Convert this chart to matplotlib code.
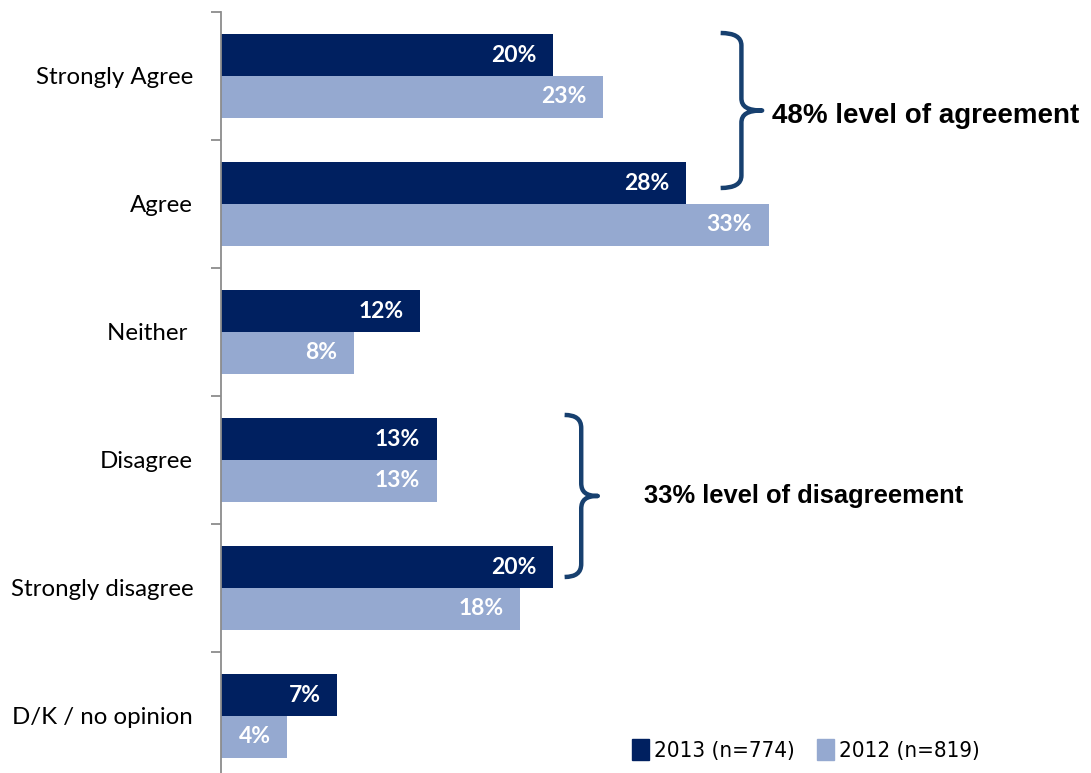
import matplotlib
matplotlib.use('Agg')

import matplotlib.pyplot as plt
from matplotlib.path import Path
from matplotlib.patches import PathPatch, Patch

categories = ["Strongly Agree", "Agree", "Neither ", "Disagree", "Strongly disagree", "D/K / no opinion"]
values_2013 = [20, 28, 12, 13, 20, 7]
values_2012 = [23, 33, 8, 13, 18, 4]
series_names = ["2013 (n=774)", "2012 (n=819)"]

DARK  = "#002060"
LIGHT = "#95A9D0"
BRACE = "#17406F"

fig = plt.figure(figsize=(10.91, 7.73), dpi=100)
# axes runs a little past the bottom edge so the last category is clipped
ax = fig.add_axes([221 / 1091, -7 / 773, 870 / 1091, 768 / 773])

h = 0.328
ypos = list(range(len(categories)))
bars_a = ax.barh([y - h / 2 for y in ypos], values_2013, height=h, color=DARK)
bars_b = ax.barh([y + h / 2 for y in ypos], values_2012, height=h, color=LIGHT)

ax.set_xlim(0, 870 / 16.6)
ax.set_ylim(len(categories) - 0.5, -0.5)

for bars, vals in ((bars_a, values_2013), (bars_b, values_2012)):
    for b, v in zip(bars, vals):
        ax.text(v - 1.0, b.get_y() + b.get_height() / 2, f"{v}%", ha="right", va="center",
                color="white", fontsize=16.5, fontweight="bold", family="Lato")

for s in ("top", "right", "bottom"):
    ax.spines[s].set_visible(False)
ax.spines["left"].set_color("#8C8C8C")
ax.spines["left"].set_linewidth(1.3)
ax.set_xticks([])
ax.set_yticks(ypos)
ax.set_yticklabels(categories, fontsize=17.3, family="Lato")
ax.set_yticks([y - 0.5 for y in ypos], minor=True)
ax.tick_params(axis="y", which="major", length=0, pad=20)
ax.tick_params(axis="y", which="minor", length=7, width=1.3, color="#8C8C8C")


def brace(x0, x1, y0, y1):
    # right-facing curly brace from y0 to y1, cusp at x1
    ym = (y0 + y1) / 2
    xm = (x0 + x1) / 2
    d = (y1 - y0) * 0.08
    verts = [(x0, y0), (xm, y0), (xm, y0 + d),
             (xm, ym - d),
             (xm, ym - 0.3 * d), (xm + 0.3 * (x1 - xm), ym), (x1, ym),
             (xm + 0.3 * (x1 - xm), ym), (xm, ym + 0.3 * d), (xm, ym + d),
             (xm, y1 - d),
             (xm, y1), (x0, y1)]
    codes = [Path.MOVETO, Path.CURVE3, Path.CURVE3,
             Path.LINETO,
             Path.CURVE4, Path.CURVE4, Path.CURVE4,
             Path.CURVE4, Path.CURVE4, Path.CURVE4,
             Path.LINETO,
             Path.CURVE3, Path.CURVE3]
    ax.add_patch(PathPatch(Path(verts, codes), fill=False, edgecolor=BRACE,
                           linewidth=3.2, capstyle="butt", joinstyle="round", clip_on=False))


brace(30.1, 32.6, -0.336, 0.875)
brace(20.7, 22.7, 2.648, 3.914)

ax.text(33.2, 0.31, "48% level of agreement", ha="left", va="center", fontsize=20,
        fontweight="bold", family="Liberation Sans")
ax.text(25.5, 3.28, "33% level of disagreement", ha="left", va="center", fontsize=18.4,
        fontweight="bold", family="Liberation Sans")

handles = [Patch(color=DARK), Patch(color=LIGHT)]
fig.legend(handles, series_names, loc="center left", bbox_to_anchor=(612 / 1091, 1 - 750 / 773),
           ncol=2, frameon=False, handlelength=0.75, handleheight=1.1, handletextpad=0.25,
           columnspacing=1.0,
           prop={"family": "DejaVu Sans", "stretch": "condensed", "size": 16})

plt.savefig("out.png", dpi=100)
plt.close("all")
